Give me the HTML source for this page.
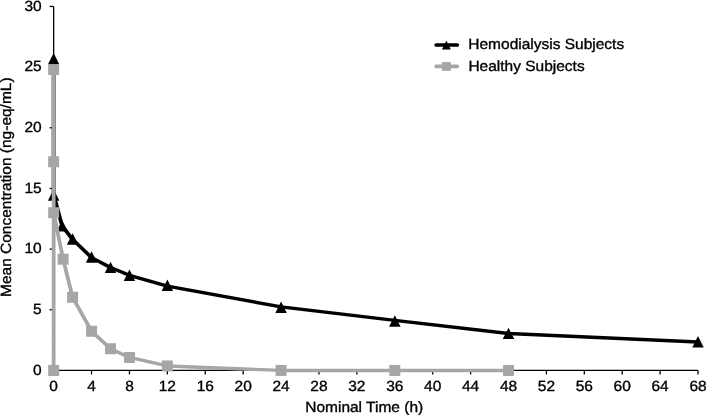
<!DOCTYPE html>
<html><head><meta charset="utf-8"><title>Chart</title>
<style>
html,body{margin:0;padding:0;background:#fff;}
body{width:706px;height:415px;overflow:hidden;font-family:"Liberation Sans",sans-serif;}
svg{display:block;will-change:transform;}
text{font-family:"Liberation Sans",sans-serif;font-size:14.8px;text-rendering:geometricPrecision;fill:#000;stroke:#000;stroke-width:0.35px;}
</style></head><body>
<svg width="706" height="415" viewBox="0 0 706 415">
<rect width="706" height="415" fill="#fff"/>

<g stroke="#000" stroke-width="1.3" fill="none">
<path d="M53.65 6.46V370.45H698.02"/>
<path d="M49.65 370.45H53.65"/>
<path d="M49.65 309.78H53.65"/>
<path d="M49.65 249.12H53.65"/>
<path d="M49.65 188.46H53.65"/>
<path d="M49.65 127.79H53.65"/>
<path d="M49.65 67.12H53.65"/>
<path d="M49.65 6.46H53.65"/>
<path d="M53.65 370.45V374.45"/>
<path d="M91.55 370.45V374.45"/>
<path d="M129.46 370.45V374.45"/>
<path d="M167.36 370.45V374.45"/>
<path d="M205.27 370.45V374.45"/>
<path d="M243.17 370.45V374.45"/>
<path d="M281.07 370.45V374.45"/>
<path d="M318.98 370.45V374.45"/>
<path d="M356.88 370.45V374.45"/>
<path d="M394.79 370.45V374.45"/>
<path d="M432.69 370.45V374.45"/>
<path d="M470.59 370.45V374.45"/>
<path d="M508.50 370.45V374.45"/>
<path d="M546.40 370.45V374.45"/>
<path d="M584.31 370.45V374.45"/>
<path d="M622.21 370.45V374.45"/>
<path d="M660.11 370.45V374.45"/>
<path d="M698.02 370.45V374.45"/>
</g>
<text transform="translate(41.70 374.50) scale(1.047 1)" text-anchor="end">0</text>
<text transform="translate(41.70 313.83) scale(1.047 1)" text-anchor="end">5</text>
<text transform="translate(41.70 253.17) scale(1.047 1)" text-anchor="end">10</text>
<text transform="translate(41.70 192.51) scale(1.047 1)" text-anchor="end">15</text>
<text transform="translate(41.70 131.84) scale(1.047 1)" text-anchor="end">20</text>
<text transform="translate(41.70 71.17) scale(1.047 1)" text-anchor="end">25</text>
<text transform="translate(41.70 10.51) scale(1.047 1)" text-anchor="end">30</text>
<text transform="translate(53.65 390.90) scale(1.047 1)" text-anchor="middle">0</text>
<text transform="translate(91.55 390.90) scale(1.047 1)" text-anchor="middle">4</text>
<text transform="translate(129.46 390.90) scale(1.047 1)" text-anchor="middle">8</text>
<text transform="translate(167.36 390.90) scale(1.047 1)" text-anchor="middle">12</text>
<text transform="translate(205.27 390.90) scale(1.047 1)" text-anchor="middle">16</text>
<text transform="translate(243.17 390.90) scale(1.047 1)" text-anchor="middle">20</text>
<text transform="translate(281.07 390.90) scale(1.047 1)" text-anchor="middle">24</text>
<text transform="translate(318.98 390.90) scale(1.047 1)" text-anchor="middle">28</text>
<text transform="translate(356.88 390.90) scale(1.047 1)" text-anchor="middle">32</text>
<text transform="translate(394.79 390.90) scale(1.047 1)" text-anchor="middle">36</text>
<text transform="translate(432.69 390.90) scale(1.047 1)" text-anchor="middle">40</text>
<text transform="translate(470.59 390.90) scale(1.047 1)" text-anchor="middle">44</text>
<text transform="translate(508.50 390.90) scale(1.047 1)" text-anchor="middle">48</text>
<text transform="translate(546.40 390.90) scale(1.047 1)" text-anchor="middle">52</text>
<text transform="translate(584.31 390.90) scale(1.047 1)" text-anchor="middle">56</text>
<text transform="translate(622.21 390.90) scale(1.047 1)" text-anchor="middle">60</text>
<text transform="translate(660.11 390.90) scale(1.047 1)" text-anchor="middle">64</text>
<text transform="translate(698.02 390.90) scale(1.047 1)" text-anchor="middle">68</text>
<text transform="translate(364.20 411.50) scale(1.047 1)" text-anchor="middle">Nominal Time (h)</text>
<text transform="translate(11.10 187.20) rotate(-90) scale(1.047 1)" text-anchor="middle">Mean Concentration (ng-eq/mL)</text>
<polyline transform="scale(1.13 1)" points="47.478,58.03 47.478,194.64 55.025,226.07 64.250,239.41 81.021,257.61 97.793,267.56 114.565,275.33 148.108,286.13 248.738,306.87 349.368,320.34 449.998,333.44 617.715,341.94" fill="none" stroke="#000" stroke-width="3.4" stroke-linejoin="round" stroke-linecap="round"/>
<path d="M53.65 53.03L59.40 64.43H47.90Z" fill="#000"/>
<path d="M53.65 189.34L59.40 200.74H47.90Z" fill="#000"/>
<path d="M62.18 220.17L67.93 231.57H56.43Z" fill="#000"/>
<path d="M72.60 233.31L78.35 244.71H66.85Z" fill="#000"/>
<path d="M91.55 251.31L97.30 262.71H85.80Z" fill="#000"/>
<path d="M110.51 261.66L116.26 273.06H104.76Z" fill="#000"/>
<path d="M129.46 269.53L135.21 280.93H123.71Z" fill="#000"/>
<path d="M167.36 279.53L173.11 290.93H161.61Z" fill="#000"/>
<path d="M281.07 301.57L286.82 312.97H275.32Z" fill="#000"/>
<path d="M394.79 315.34L400.54 326.74H389.04Z" fill="#000"/>
<path d="M508.50 327.64L514.25 339.04H502.75Z" fill="#000"/>
<path d="M698.02 336.04L703.77 347.44H692.27Z" fill="#000"/>
<polyline transform="scale(1.13 1)" points="47.478,370.45 47.478,69.55 47.478,161.76 47.478,212.72 55.864,259.19 64.250,297.29 81.021,331.26 97.793,348.73 114.565,357.47 148.108,365.96 248.738,370.45 349.368,370.45 449.998,370.45" fill="none" stroke="#a6a6a6" stroke-width="3.35" stroke-linejoin="round" stroke-linecap="round"/>
<rect x="48.15" y="364.95" width="11" height="11" fill="#a6a6a6"/>
<rect x="48.15" y="64.05" width="11" height="11" fill="#a6a6a6"/>
<rect x="48.15" y="156.26" width="11" height="11" fill="#a6a6a6"/>
<rect x="48.15" y="207.22" width="11" height="11" fill="#a6a6a6"/>
<rect x="57.63" y="253.69" width="11" height="11" fill="#a6a6a6"/>
<rect x="67.10" y="291.79" width="11" height="11" fill="#a6a6a6"/>
<rect x="86.05" y="325.76" width="11" height="11" fill="#a6a6a6"/>
<rect x="105.01" y="343.23" width="11" height="11" fill="#a6a6a6"/>
<rect x="123.96" y="351.97" width="11" height="11" fill="#a6a6a6"/>
<rect x="161.86" y="360.46" width="11" height="11" fill="#a6a6a6"/>
<rect x="275.57" y="364.95" width="11" height="11" fill="#a6a6a6"/>
<rect x="389.29" y="364.95" width="11" height="11" fill="#a6a6a6"/>
<rect x="503.00" y="364.95" width="11" height="11" fill="#a6a6a6"/>
<path d="M436.2 45.0H457.3" stroke="#000" stroke-width="3.7" stroke-linecap="round"/>
<path d="M446.4 40.8L450.9 49.5H441.9Z" fill="#000"/>
 <path d="M436.2 66.45H457.3" stroke="#a6a6a6" stroke-width="3.7" stroke-linecap="round"/>
<rect x="441.9" y="62.1" width="9" height="8.7" fill="#a6a6a6"/>
<text transform="translate(468.30 49.00) scale(1.047 1)">Hemodialysis Subjects</text>
<text transform="translate(468.40 71.30) scale(1.047 1)">Healthy Subjects</text>
</svg></body></html>
